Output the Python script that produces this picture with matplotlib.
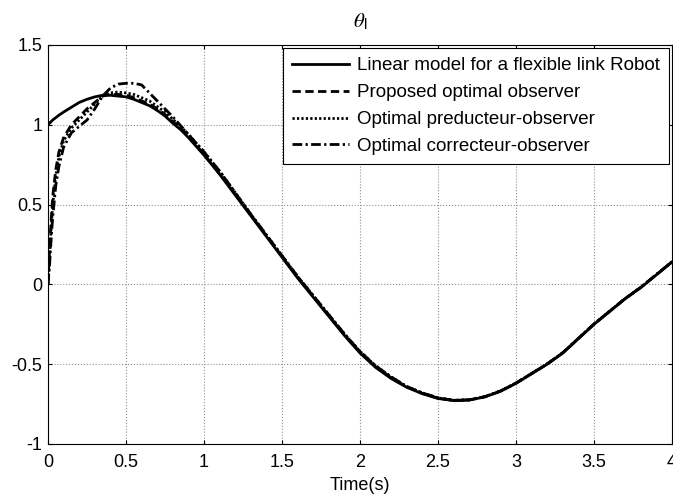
import matplotlib
matplotlib.use("Agg")
import matplotlib.pyplot as plt

plt.rcParams['font.family'] = ['Liberation Sans', 'DejaVu Sans']
plt.rcParams['mathtext.fontset'] = 'stix'

t = [0, 0.01, 0.02, 0.03, 0.05, 0.07, 0.1, 0.15, 0.2, 0.25, 0.3, 0.35, 0.4, 0.45,
     0.5, 0.55, 0.6, 0.65, 0.7, 0.75, 0.8, 0.85, 0.9, 1.0, 1.1, 1.2, 1.3, 1.4, 1.5,
     1.6, 1.7, 1.8, 1.9, 2.0, 2.1, 2.2, 2.3, 2.4, 2.5, 2.6, 2.7, 2.8, 2.9, 3.0,
     3.1, 3.2, 3.3, 3.4, 3.5, 3.6, 3.7, 3.8, 3.9, 4.0]

linear_model = [1.0, 1.01, 1.02, 1.03, 1.045, 1.06, 1.08, 1.11, 1.14, 1.16, 1.175, 1.185, 1.185, 1.18,
                1.175, 1.16, 1.14, 1.12, 1.09, 1.055, 1.01, 0.97, 0.92, 0.81, 0.69, 0.56, 0.43, 0.30, 0.17,
                0.04, -0.08, -0.20, -0.32, -0.43, -0.52, -0.59, -0.645, -0.685, -0.715, -0.728, -0.725, -0.705, -0.67, -0.62,
                -0.56, -0.50, -0.43, -0.34, -0.25, -0.17, -0.09, -0.02, 0.06, 0.14]

proposed = [0.0, 0.22, 0.40, 0.55, 0.72, 0.83, 0.92, 1.0, 1.05, 1.10, 1.14, 1.18, 1.19, 1.19,
            1.185, 1.17, 1.15, 1.13, 1.10, 1.065, 1.02, 0.98, 0.93, 0.815, 0.695, 0.565, 0.435, 0.305, 0.175,
            0.045, -0.075, -0.195, -0.315, -0.425, -0.515, -0.585, -0.642, -0.683, -0.713, -0.727, -0.724, -0.704, -0.669, -0.619,
            -0.559, -0.499, -0.429, -0.339, -0.249, -0.169, -0.089, -0.019, 0.061, 0.141]

preducteur = [0.0, 0.18, 0.35, 0.50, 0.68, 0.80, 0.90, 0.98, 1.03, 1.08, 1.13, 1.18, 1.20, 1.205,
              1.20, 1.19, 1.17, 1.15, 1.115, 1.08, 1.035, 0.99, 0.94, 0.83, 0.71, 0.575, 0.44, 0.31, 0.18,
              0.05, -0.07, -0.19, -0.31, -0.42, -0.51, -0.58, -0.64, -0.68, -0.711, -0.726, -0.723, -0.703, -0.668, -0.618,
              -0.558, -0.498, -0.428, -0.338, -0.248, -0.168, -0.088, -0.018, 0.062, 0.142]

correcteur = [0.0, 0.12, 0.28, 0.42, 0.62, 0.74, 0.86, 0.95, 0.99, 1.03, 1.10, 1.18, 1.23, 1.255,
              1.26, 1.26, 1.25, 1.20, 1.15, 1.10, 1.05, 0.995, 0.94, 0.83, 0.71, 0.575, 0.44, 0.31, 0.18,
              0.05, -0.07, -0.19, -0.31, -0.42, -0.51, -0.58, -0.64, -0.68, -0.711, -0.726, -0.723, -0.703, -0.668, -0.618,
              -0.558, -0.498, -0.428, -0.338, -0.248, -0.168, -0.088, -0.018, 0.062, 0.142]

labels = ["Linear model for a flexible link Robot",
          "Proposed optimal observer",
          "Optimal preducteur-observer",
          "Optimal correcteur-observer"]

xticks = [0, 0.5, 1, 1.5, 2, 2.5, 3, 3.5, 4]
xticklabels = ["0", "0.5", "1", "1.5", "2", "2.5", "3", "3.5", "4"]
yticks = [-1, -0.5, 0, 0.5, 1, 1.5]
yticklabels = ["-1", "-0.5", "0", "0.5", "1", "1.5"]

fig = plt.figure(figsize=(6.73, 4.99), dpi=100)
ax = fig.add_axes([48/673, 55/499, 624/673, 399/499])

ax.plot(t, proposed, color='black', lw=2, linestyle=(0, (3, 1.6)), label=labels[1], zorder=3)
ax.plot(t, preducteur, color='black', lw=2, linestyle=(0, (0.8, 0.8)), label=labels[2], zorder=3)
ax.plot(t, correcteur, color='black', lw=2, linestyle=(0, (3.5, 1.2, 0.8, 1.2)), label=labels[3], zorder=3)
ax.plot(t, linear_model, color='black', lw=2, linestyle='-', label=labels[0], zorder=4)

ax.set_xlim(0, 4)
ax.set_ylim(-1, 1.5)
ax.set_xticks(xticks)
ax.set_xticklabels(xticklabels)
ax.set_yticks(yticks)
ax.set_yticklabels(yticklabels)
ax.tick_params(direction='in', top=True, right=True, labelsize=13, length=3, width=0.8)
ax.tick_params(axis='x', pad=7.5)
ax.tick_params(axis='y', pad=4)
ax.grid(True, color='#909090', linestyle=':', linewidth=0.8)
for s in ax.spines.values():
    s.set_linewidth(0.8)

ax.set_title(r'$\theta_\mathregular{l}$', fontsize=15, pad=13)
ax.set_xlabel('Time(s)', fontsize=13, labelpad=4)

handles, labs = ax.get_legend_handles_labels()
order = [3, 0, 1, 2]
leg = ax.legend([handles[i] for i in order], [labs[i] for i in order],
                loc='upper right', fontsize=13.5, frameon=True, fancybox=False,
                borderaxespad=0.15, handlelength=3.0, labelspacing=0.52, borderpad=0.5,
                handletextpad=0.45)
leg.get_frame().set_edgecolor('black')
leg.get_frame().set_linewidth(0.8)
leg.get_frame().set_alpha(1)

fig.savefig('out.png', dpi=100)
